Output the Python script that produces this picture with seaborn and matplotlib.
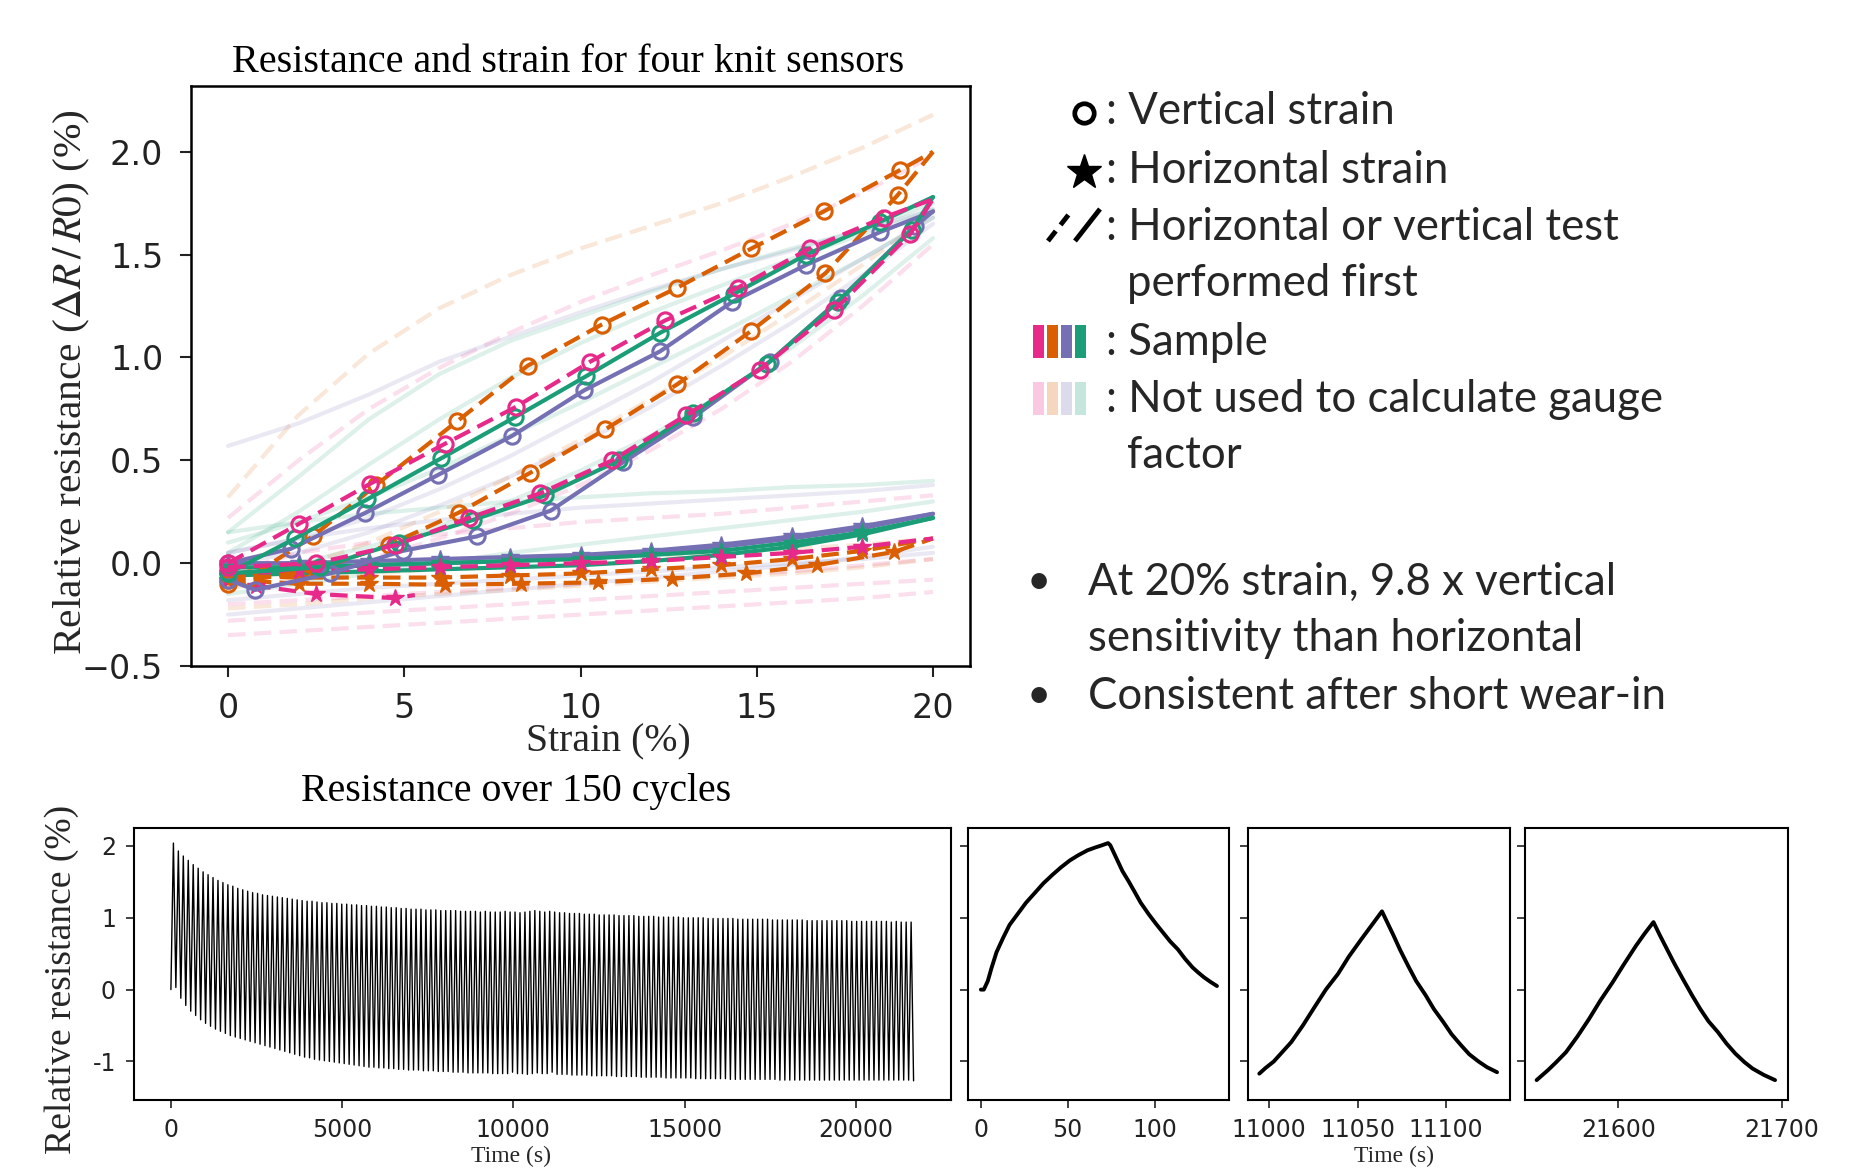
import numpy as np
import matplotlib
matplotlib.use("Agg")
import matplotlib.pyplot as plt
import seaborn as sns

# ---------------- DATA ----------------
# Top plot: bold (used) curves, strain (%) vs relative resistance (%)
orange_vu_x = [0, 0.6, 2.4, 4.2, 6.5, 8.5, 10.6, 12.75, 14.85, 16.9, 19.05, 20]
orange_vu_y = [-0.08, -0.07, 0.13, 0.38, 0.69, 0.96, 1.16, 1.34, 1.53, 1.71, 1.91, 2.0]
orange_vl_x = [0, 2.5, 4.58, 6.54, 8.58, 10.7, 12.75, 14.85, 16.95, 19.0, 20]
orange_vl_y = [-0.10, -0.03, 0.09, 0.245, 0.44, 0.65, 0.87, 1.13, 1.41, 1.79, 2.0]
pink_vu_x = [0, 2.0, 4.02, 6.15, 8.17, 10.28, 12.4, 14.47, 16.5, 18.6, 20]
pink_vu_y = [0.0, 0.19, 0.385, 0.58, 0.76, 0.98, 1.18, 1.34, 1.53, 1.68, 1.77]
pink_vl_x = [0, 2.5, 4.74, 6.84, 8.86, 10.9, 13.0, 15.08, 17.2, 19.35, 20]
pink_vl_y = [-0.02, 0.0, 0.087, 0.22, 0.34, 0.50, 0.72, 0.94, 1.23, 1.60, 1.77]
green_vu_x = [0, 1.9, 3.95, 6.05, 8.14, 10.17, 12.26, 14.36, 16.4, 18.5, 20]
green_vu_y = [-0.05, 0.12, 0.31, 0.51, 0.71, 0.91, 1.12, 1.31, 1.50, 1.66, 1.78]
green_vl_x = [0, 2.6, 4.85, 6.95, 9.0, 11.1, 13.2, 15.3, 17.3, 19.4, 20]
green_vl_y = [-0.05, -0.02, 0.10, 0.21, 0.33, 0.50, 0.73, 0.97, 1.27, 1.62, 1.78]
purple_vu_x = [0, 1.78, 3.9, 5.97, 8.07, 10.1, 12.26, 14.3, 16.4, 18.5, 20]
purple_vu_y = [0.0, 0.07, 0.245, 0.43, 0.62, 0.84, 1.03, 1.27, 1.45, 1.61, 1.71]
purple_vl_x = [0, 0.77, 2.9, 4.96, 7.06, 9.15, 11.2, 13.2, 15.37, 17.4, 19.5, 20]
purple_vl_y = [-0.08, -0.13, -0.05, 0.06, 0.13, 0.255, 0.49, 0.71, 0.98, 1.29, 1.64, 1.71]

h_x = [0, 2, 4, 6, 8, 10, 12, 14, 16, 18, 20]
purple_h1_y = [-0.05, -0.03, -0.01, 0.00, 0.01, 0.03, 0.05, 0.08, 0.12, 0.17, 0.24]
purple_h2_y = [0.00, 0.00, 0.01, 0.02, 0.03, 0.04, 0.06, 0.09, 0.13, 0.18, 0.24]
green_h1_y = [-0.06, -0.05, -0.04, -0.03, -0.02, -0.01, 0.01, 0.04, 0.08, 0.14, 0.22]
green_h2_y = [-0.02, -0.02, -0.01, 0.00, 0.01, 0.02, 0.04, 0.06, 0.10, 0.15, 0.22]
pink_h1_y = [-0.05, -0.04, -0.03, -0.02, -0.01, 0.00, 0.01, 0.03, 0.05, 0.08, 0.12]
pink_h2_x = [0, 0.8, 2.5, 4.74, 5.3]
pink_h2_y = [-0.08, -0.11, -0.15, -0.17, -0.155]
orange_h1_x = [0, 2, 4, 6.17, 8.3, 10.5, 12.6, 14.7, 16.7, 18.9, 20]
orange_h1_y = [-0.08, -0.10, -0.10, -0.105, -0.10, -0.093, -0.075, -0.05, -0.01, 0.055, 0.12]
orange_h2_y = [-0.06, -0.07, -0.07, -0.07, -0.06, -0.05, -0.03, -0.01, 0.02, 0.06, 0.12]

# Faint curves (not used for gauge factor)
faint_x = [0, 2, 4, 6, 8, 10, 12, 14, 16, 18, 20]
faint_orange_a = [0.32, 0.72, 1.02, 1.24, 1.40, 1.53, 1.64, 1.75, 1.88, 2.02, 2.18]
faint_pink_a = [0.22, 0.50, 0.75, 0.95, 1.12, 1.27, 1.40, 1.52, 1.65, 1.80, 1.98]
faint_purple_a = [0.57, 0.68, 0.82, 0.98, 1.10, 1.22, 1.33, 1.43, 1.52, 1.62, 1.72]
faint_green_a = [0.15, 0.42, 0.70, 0.92, 1.08, 1.20, 1.32, 1.43, 1.53, 1.62, 1.75]
faint_green_b = [0.05, 0.25, 0.48, 0.70, 0.90, 1.07, 1.22, 1.35, 1.48, 1.60, 1.72]
faint_purple_b = [0.00, 0.05, 0.15, 0.28, 0.42, 0.58, 0.76, 0.96, 1.17, 1.40, 1.65]
faint_green_c = [-0.05, 0.00, 0.08, 0.18, 0.30, 0.45, 0.62, 0.82, 1.05, 1.30, 1.58]
faint_pink_b = [-0.08, -0.05, 0.02, 0.12, 0.24, 0.38, 0.55, 0.75, 0.98, 1.25, 1.55]
faint_orange_b = [-0.10, -0.02, 0.10, 0.25, 0.42, 0.60, 0.80, 1.00, 1.22, 1.45, 1.70]
faint_green_d = [0.10, 0.20, 0.32, 0.46, 0.62, 0.78, 0.95, 1.12, 1.30, 1.48, 1.68]
faint_purple_c = [0.05, 0.12, 0.22, 0.36, 0.52, 0.70, 0.88, 1.08, 1.28, 1.48, 1.68]
faint_green_e = [0.15, 0.20, 0.24, 0.27, 0.30, 0.32, 0.34, 0.35, 0.37, 0.38, 0.40]
faint_purple_d = [0.05, 0.12, 0.17, 0.21, 0.24, 0.27, 0.29, 0.31, 0.33, 0.35, 0.38]
faint_pink_c = [-0.05, 0.05, 0.10, 0.14, 0.17, 0.20, 0.22, 0.24, 0.27, 0.30, 0.33]
faint_orange_c = [-0.12, -0.08, -0.05, -0.03, -0.01, 0.01, 0.03, 0.05, 0.07, 0.09, 0.12]
faint_pink_d = [-0.20, -0.18, -0.16, -0.14, -0.12, -0.10, -0.08, -0.06, -0.04, -0.01, 0.02]
faint_pink_e = [-0.28, -0.26, -0.24, -0.22, -0.20, -0.18, -0.16, -0.14, -0.12, -0.10, -0.08]
faint_pink_f = [-0.35, -0.33, -0.31, -0.29, -0.27, -0.25, -0.23, -0.21, -0.19, -0.17, -0.14]
faint_purple_e = [-0.18, -0.15, -0.12, -0.10, -0.08, -0.06, -0.04, -0.02, 0.00, 0.02, 0.05]
faint_orange_d = [-0.22, -0.20, -0.17, -0.15, -0.13, -0.11, -0.09, -0.07, -0.05, -0.02, 0.02]
faint_green_f = [-0.15, -0.10, -0.05, 0.00, 0.05, 0.09, 0.13, 0.17, 0.21, 0.25, 0.30]
faint_purple_f = [-0.25, -0.22, -0.19, -0.16, -0.13, -0.10, -0.07, -0.04, -0.01, 0.03, 0.08]

# Bottom: 150 cycles
cycle_period_s = 144.6
peak_time_in_cycle_s = 73.0
cycle_peaks = [
    2.04, 1.93, 1.86, 1.80, 1.74, 1.69, 1.64, 1.60, 1.56, 1.52,
    1.49, 1.46, 1.44, 1.41, 1.39, 1.37, 1.35, 1.34, 1.32, 1.31,
    1.30, 1.29, 1.28, 1.27, 1.26, 1.25, 1.24, 1.23, 1.23, 1.22,
    1.21, 1.21, 1.20, 1.20, 1.19, 1.19, 1.18, 1.18, 1.17, 1.17,
    1.16, 1.16, 1.15, 1.15, 1.14, 1.14, 1.13, 1.13, 1.12, 1.12,
    1.12, 1.11, 1.11, 1.11, 1.10, 1.10, 1.10, 1.10, 1.09, 1.09,
    1.09, 1.09, 1.08, 1.09, 1.08, 1.08, 1.08, 1.09, 1.08, 1.08,
    1.07, 1.08, 1.09, 1.10, 1.09, 1.08, 1.09, 1.08, 1.07, 1.07,
    1.06, 1.06, 1.06, 1.05, 1.05, 1.05, 1.04, 1.04, 1.04, 1.04,
    1.03, 1.03, 1.03, 1.03, 1.02, 1.02, 1.02, 1.02, 1.01, 1.01,
    1.01, 1.01, 1.01, 1.00, 1.00, 1.00, 1.00, 1.00, 0.99, 0.99,
    0.99, 0.99, 0.99, 0.99, 0.98, 0.98, 0.98, 0.98, 0.98, 0.98,
    0.98, 0.97, 0.97, 0.97, 0.97, 0.97, 0.97, 0.97, 0.96, 0.96,
    0.96, 0.96, 0.96, 0.96, 0.96, 0.96, 0.96, 0.95, 0.95, 0.95,
    0.95, 0.95, 0.95, 0.95, 0.95, 0.94, 0.95, 0.94, 0.94, 0.94,
]
cycle_troughs = [
    0.00, 0.03, -0.12, -0.22, -0.30, -0.36, -0.42, -0.47, -0.51, -0.55,
    -0.58, -0.61, -0.64, -0.66, -0.68, -0.70, -0.72, -0.74, -0.76, -0.78,
    -0.80, -0.82, -0.84, -0.86, -0.88, -0.90, -0.92, -0.94, -0.95, -0.97,
    -0.98, -0.99, -1.00, -1.01, -1.02, -1.03, -1.04, -1.05, -1.06, -1.07,
    -1.08, -1.08, -1.09, -1.09, -1.10, -1.10, -1.11, -1.11, -1.12, -1.12,
    -1.12, -1.13, -1.13, -1.13, -1.14, -1.14, -1.14, -1.15, -1.15, -1.15,
    -1.16, -1.16, -1.16, -1.16, -1.16, -1.17, -1.17, -1.17, -1.17, -1.15,
    -1.17, -1.17, -1.18, -1.17, -1.16, -1.17, -1.17, -1.15, -1.18, -1.18,
    -1.18, -1.19, -1.19, -1.19, -1.19, -1.20, -1.20, -1.20, -1.20, -1.20,
    -1.21, -1.21, -1.21, -1.21, -1.21, -1.22, -1.22, -1.22, -1.22, -1.22,
    -1.23, -1.23, -1.23, -1.23, -1.23, -1.23, -1.24, -1.24, -1.24, -1.24,
    -1.24, -1.24, -1.24, -1.25, -1.25, -1.25, -1.25, -1.25, -1.25, -1.25,
    -1.25, -1.25, -1.25, -1.26, -1.26, -1.26, -1.26, -1.26, -1.26, -1.26,
    -1.26, -1.26, -1.26, -1.26, -1.26, -1.26, -1.26, -1.26, -1.26, -1.26,
    -1.26, -1.26, -1.26, -1.26, -1.26, -1.26, -1.26, -1.26, -1.26, -1.26,
    -1.27,
]
# Zoomed single cycles
p1_t = [0, 1.7, 4, 6, 9, 12.8, 16.5, 21.1, 26, 31.2, 36, 41.3, 46, 51.3, 56, 61.4, 66, 69.8, 73.2, 74.5,
        78, 81.5, 85, 88.3, 92, 96.6, 101, 105, 109, 113.4, 117.5, 121.8, 125, 128.5, 132, 135.9]
p1_r = [0.0, 0.0, 0.12, 0.29, 0.52, 0.72, 0.90, 1.05, 1.21, 1.35, 1.48, 1.60, 1.70, 1.80, 1.87, 1.94, 1.98, 2.01, 2.04, 2.01,
        1.83, 1.65, 1.51, 1.37, 1.21, 1.05, 0.91, 0.79, 0.67, 0.56, 0.43, 0.31, 0.24, 0.17, 0.11, 0.05]
p2_t = [10994.4, 10998, 11002.6, 11007, 11012.5, 11019, 11025.7, 11032, 11038.9, 11045, 11052, 11058, 11063.7,
        11067, 11070.3, 11074, 11078.5, 11083, 11088.4, 11093, 11098.3, 11103, 11108.2, 11113, 11118.2, 11123, 11128.7]
p2_r = [-1.17, -1.09, -1.00, -0.88, -0.73, -0.50, -0.24, 0.00, 0.22, 0.46, 0.70, 0.90, 1.09,
        0.92, 0.75, 0.55, 0.33, 0.12, -0.08, -0.27, -0.45, -0.62, -0.77, -0.90, -1.00, -1.08, -1.15]
p3_t = [21550, 21553, 21557, 21562, 21568, 21575, 21582, 21589, 21596.4, 21603, 21610.7, 21616, 21621.4,
        21625, 21628.6, 21634, 21639.3, 21645, 21650, 21655, 21660.7, 21666, 21671.4, 21677, 21682, 21689, 21695.7]
p3_r = [-1.26, -1.20, -1.12, -1.01, -0.87, -0.65, -0.41, -0.15, 0.10, 0.34, 0.61, 0.78, 0.94,
        0.77, 0.61, 0.37, 0.15, -0.08, -0.27, -0.44, -0.59, -0.75, -0.89, -1.01, -1.10, -1.19, -1.26]

top_xticks = [0, 5, 10, 15, 20]
top_yticks = [-0.5, 0.0, 0.5, 1.0, 1.5, 2.0]
top_yticklabels = ["\u22120.5", "0.0", "0.5", "1.0", "1.5", "2.0"]
bot_yticks = [2, 1, 0, -1]
bot_yticklabels = ["2", "1", "0", "-1"]
bot_xticks = [0, 5000, 10000, 15000, 20000]
p1_xticks = [0, 50, 100]
p2_xticks = [11000, 11050, 11100]
p3_xticks = [21600, 21700]

# ---------------- STYLE ----------------
sns.set_theme(style="ticks")
plt.rcParams["font.family"] = ["DejaVu Sans"]
plt.rcParams["mathtext.fontset"] = "stix"
plt.rcParams["axes.edgecolor"] = "black"

pal = sns.color_palette("Dark2")
GREEN, ORANGE, PURPLE, PINK = pal[0], pal[1], pal[2], pal[3]
SERIF = "Liberation Serif"
SLIDE = "Lato"
DASH = (0, (4.2, 2.0))

W, H = 1874, 1168
fig = plt.figure(figsize=(W / 100, H / 100), dpi=100)
fig.patch.set_facecolor("white")

def px_axes(l, t, r, b):
    return fig.add_axes([l / W, 1 - b / H, (r - l) / W, (b - t) / H])

# ---------------- TOP PLOT ----------------
ax = px_axes(191, 86, 970, 666)

faint = [
    (faint_orange_a, ORANGE, DASH), (faint_pink_a, PINK, DASH), (faint_purple_a, PURPLE, "-"),
    (faint_green_a, GREEN, "-"), (faint_green_b, GREEN, "-"), (faint_purple_b, PURPLE, "-"),
    (faint_green_c, GREEN, "-"), (faint_pink_b, PINK, DASH), (faint_orange_b, ORANGE, DASH),
    (faint_green_d, GREEN, "-"), (faint_purple_c, PURPLE, "-"), (faint_green_e, GREEN, "-"),
    (faint_purple_d, PURPLE, "-"), (faint_pink_c, PINK, DASH), (faint_orange_c, ORANGE, DASH),
    (faint_pink_d, PINK, DASH), (faint_pink_e, PINK, DASH), (faint_pink_f, PINK, DASH),
    (faint_purple_e, PURPLE, "-"), (faint_orange_d, ORANGE, DASH),
    (faint_green_f, GREEN, "-"), (faint_purple_f, PURPLE, "-"),
]
for ys, c, ls in faint:
    sns.lineplot(x=faint_x, y=ys, ax=ax, color=c, linestyle=ls, lw=3.0, alpha=0.15,
                 sort=False, estimator=None)

bold = [
    (h_x, purple_h1_y, PURPLE, "-", "*"), (h_x, purple_h2_y, PURPLE, "-", "*"),
    (h_x, green_h1_y, GREEN, "-", "*"), (h_x, green_h2_y, GREEN, "-", "*"),
    (orange_h1_x, orange_h1_y, ORANGE, DASH, "*"), (h_x, orange_h2_y, ORANGE, DASH, "*"),
    (h_x, pink_h1_y, PINK, DASH, "*"), (pink_h2_x, pink_h2_y, PINK, DASH, "*"),
    (orange_vl_x, orange_vl_y, ORANGE, DASH, "o"), (orange_vu_x, orange_vu_y, ORANGE, DASH, "o"),
    (purple_vl_x, purple_vl_y, PURPLE, "-", "o"), (purple_vu_x, purple_vu_y, PURPLE, "-", "o"),
    (green_vl_x, green_vl_y, GREEN, "-", "o"), (green_vu_x, green_vu_y, GREEN, "-", "o"),
    (pink_vl_x, pink_vl_y, PINK, DASH, "o"), (pink_vu_x, pink_vu_y, PINK, DASH, "o"),
]
for xs, ys, c, ls, m in bold:
    n = len(xs)
    if m == "o":
        mk = dict(marker="o", markersize=11, markerfacecolor="none", markeredgecolor=c,
                  markeredgewidth=2.2)
    else:
        mk = dict(marker="*", markersize=13, markerfacecolor=c, markeredgecolor=c,
                  markeredgewidth=1.0)
    sns.lineplot(x=xs, y=ys, ax=ax, color=c, linestyle=ls, lw=3.0, markevery=list(range(n - 1)),
                 sort=False, estimator=None, **mk)

ax.set_xlim(-1.05, 21.05)
ax.set_ylim(-0.5, 2.32)
ax.set_xticks(top_xticks)
ax.set_xticklabels([str(v) for v in top_xticks])
ax.set_yticks(top_yticks)
ax.set_yticklabels(top_yticklabels)
ax.tick_params(axis="both", labelsize=24, length=8, width=1.5, colors="#222222")
ax.tick_params(axis="x", pad=11)
ax.tick_params(axis="y", pad=12)
for s in ax.spines.values():
    s.set_linewidth(1.8)
    s.set_color("black")
ax.set_xlabel("")
ax.set_ylabel("")

# ---------------- BOTTOM PLOTS ----------------
axb = px_axes(134, 828, 951, 1099.5)
cyc_t, cyc_r = [], []
for k in range(len(cycle_peaks)):
    cyc_t += [k * cycle_period_s, k * cycle_period_s + peak_time_in_cycle_s]
    cyc_r += [cycle_troughs[k], cycle_peaks[k]]
cyc_t.append(len(cycle_peaks) * cycle_period_s)
cyc_r.append(cycle_troughs[-1])
sns.lineplot(x=cyc_t, y=cyc_r, ax=axb, color="black", lw=1.0, sort=False, estimator=None)
axb.set_xlim(-1078, 22783)

panels = [
    (px_axes(968, 828, 1228.6, 1099.5), p1_t, p1_r, (-7.4, 142.6), p1_xticks),
    (px_axes(1247.6, 828, 1510.5, 1099.5), p2_t, p2_r, (10987.8, 11136.3), p2_xticks),
    (px_axes(1525, 828, 1788, 1099.5), p3_t, p3_r, (21542.9, 21703.6), p3_xticks),
]
for a, tt, rr, xl, xt in panels:
    sns.lineplot(x=tt, y=rr, ax=a, color="black", lw=2.8, sort=False, estimator=None)
    a.set_xlim(*xl)
    a.set_xticks(xt)
    a.set_xticklabels([str(v) for v in xt])

for a in [axb] + [p[0] for p in panels]:
    a.set_ylim(-1.53, 2.25)
    a.set_yticks(bot_yticks)
    a.set_xlabel("")
    a.set_ylabel("")
    a.tick_params(axis="both", labelsize=17, length=6, width=1.2, colors="#222222", pad=7)
    for s in a.spines.values():
        s.set_linewidth(1.5)
        s.set_color("black")
axb.set_yticklabels(bot_yticklabels)
axb.set_xticks(bot_xticks)
axb.set_xticklabels([str(v) for v in bot_xticks])
for a, *_ in panels:
    a.set_yticklabels([])

# ---------------- TEXT ----------------
renderer = fig.canvas.get_renderer()

def fit(t, target, vertical=False):
    bb = t.get_window_extent(renderer=renderer)
    cur = bb.height if vertical else bb.width
    t.set_fontsize(t.get_fontsize() * target / cur)

def ftext(x, y, s, **kw):
    return fig.text(x / W, 1 - y / H, s, **kw)

t1 = ftext(568, 62, "Resistance and strain for four knit sensors", family=SERIF, fontsize=24,
           ha="center", va="center", color="black")
fit(t1, 675)
t2 = ftext(516, 792, "Resistance over 150 cycles", family=SERIF, fontsize=24,
           ha="center", va="center", color="black")
fit(t2, 431)
t3 = ftext(608, 742, "Strain (%)", family=SERIF, fontsize=24, ha="center", va="center")
fit(t3, 165)
t4 = ftext(72, 382, r"Relative resistance ($\Delta R\,/\,R0$) (%)", family=SERIF, fontsize=24,
           ha="center", va="center", rotation=90)
fit(t4, 547, vertical=True)
t5 = ftext(62, 979, "Relative resistance (%)", family=SERIF, fontsize=26, ha="center",
           va="center", rotation=90)
fit(t5, 349, vertical=True)
ftext(511, 1167.5, "Time (s)", family=SERIF, fontsize=17, ha="center", va="bottom")
ftext(1394, 1167.5, "Time (s)", family=SERIF, fontsize=17, ha="center", va="bottom")

ref = ftext(1105.5, 240, ": Horizontal or vertical test", family=SLIDE, fontsize=28,
            ha="left", va="baseline")
fit(ref, 513)
fs = ref.get_fontsize()
lines = [
    (1105.5, 124, ": Vertical strain"),
    (1105.5, 183, ": Horizontal strain"),
    (1127, 296, "performed first"),
    (1105.5, 355, ": Sample"),
    (1105.5, 412, ": Not used to calculate gauge"),
    (1127, 468, "factor"),
    (1087.5, 595, "At 20% strain, 9.8 x vertical"),
    (1087.5, 651, "sensitivity than horizontal"),
    (1087.5, 709, "Consistent after short wear-in"),
]
for x, y, s in lines:
    ftext(x, y, s, family=SLIDE, fontsize=fs, ha="left", va="baseline")
for y in (595, 709):
    ftext(1039, y - 1, "\u2022", family=SLIDE, fontsize=fs * 0.95, ha="center", va="baseline")

# legend glyphs in an overlay (pixel coordinates)
ov = fig.add_axes([0, 0, 1, 1], zorder=-1)
ov.set_xlim(0, W)
ov.set_ylim(H, 0)
ov.axis("off")
ov.plot([1084], [113], marker="o", markersize=14, markerfacecolor="none",
        markeredgecolor="black", markeredgewidth=3.4)
ov.plot([1084], [172], marker="*", markersize=26, color="black")
ov.plot([1048, 1073], [241, 209], color="black", lw=3.5, linestyle=(0, (2.6, 1.6)),
        solid_capstyle="butt")
ov.plot([1075, 1100], [241, 209], color="black", lw=3.5, solid_capstyle="butt")
bar_x = [1033, 1047, 1061, 1075]
for bx, c in zip(bar_x, [PINK, ORANGE, PURPLE, GREEN]):
    ov.add_patch(plt.Rectangle((bx, 325), 11, 33, color=c, lw=0))
    ov.add_patch(plt.Rectangle((bx, 382), 11, 33, color=c, lw=0, alpha=0.25))

fig.savefig("out.png", dpi=100, facecolor="white")
